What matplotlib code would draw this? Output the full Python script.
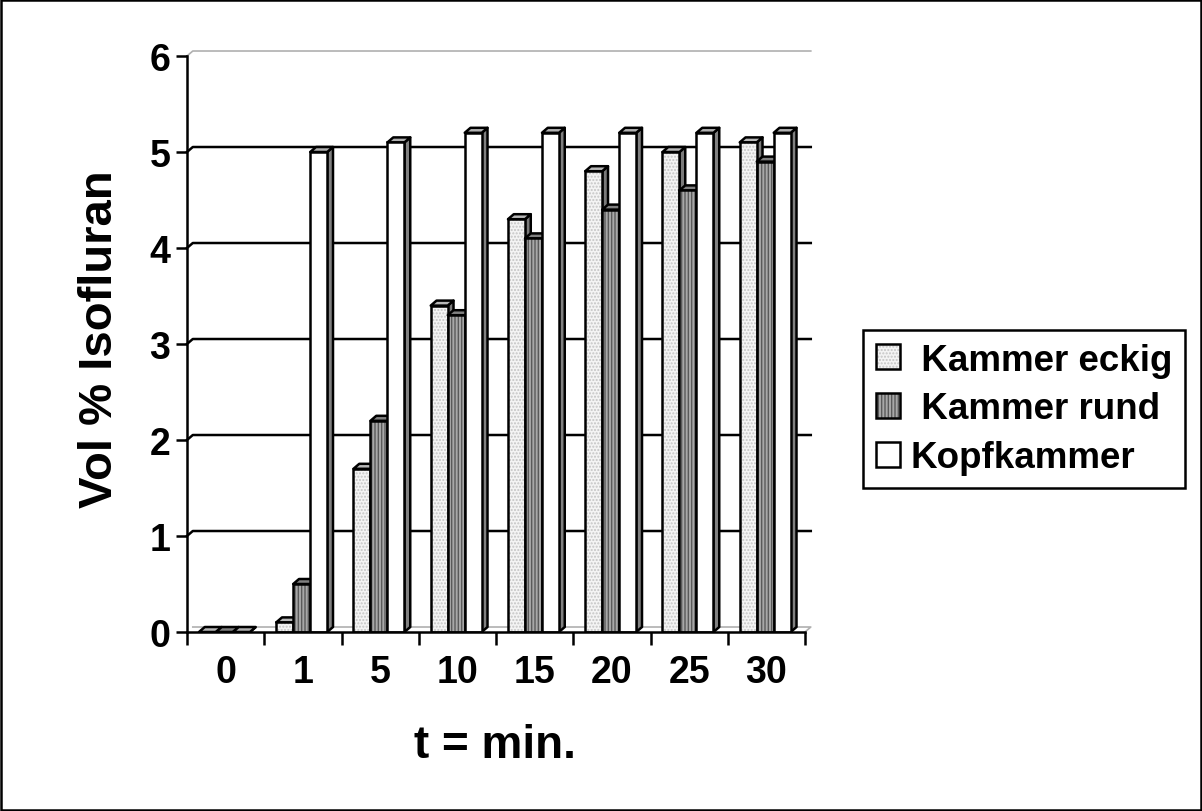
import numpy as np
import matplotlib
matplotlib.use("Agg")
import matplotlib.pyplot as plt
from matplotlib.patches import Polygon, Patch, Rectangle
from matplotlib.legend_handler import HandlerTuple

plt.rcParams['font.family'] = ['Liberation Sans', 'DejaVu Sans']
plt.rcParams['font.weight'] = 'bold'
plt.rcParams['hatch.linewidth'] = 1.0

# data
times = ['0', '1', '5', '10', '15', '20', '25', '30']
eckig = [0, 0.1, 1.7, 3.4, 4.3, 4.8, 5.0, 5.1]
rund = [0, 0.5, 2.2, 3.3, 4.1, 4.4, 4.6, 4.9]
kopf = [0, 5.0, 5.1, 5.2, 5.2, 5.2, 5.2, 5.2]
series_names = [' Kammer eckig', ' Kammer rund', 'Kopfkammer']

# style: (face, hatch, hatch colour, side face, top face)
styles = [
    ('#f4f4f4', '.....', '#c4c4c4', '#7a7a7a', '#b8b8b8'),
    ('#a8a8a8', '|||||', '#5a5a5a', '#555555', '#808080'),
    ('#ffffff', None, '#ffffff', '#808080', '#b0b0b0'),
]
LW = 1.8

W, H = 1202, 812
fig = plt.figure(figsize=(W / 100, H / 100), dpi=100)
ax = fig.add_axes([187 / W, 1 - 633 / H, (805 - 187) / W, (633 - 57) / H])

x = np.arange(len(times))
ax.set_xlim(-0.5, len(times) - 0.5)
ax.set_ylim(0, 6)

# depth of the pseudo 3d look, in data units
dx, dy = 0.075, 0.052
offsets = [-0.235, -0.015, 0.205]
bw = 0.22

# back wall gridlines
for v in range(1, 7):
    col = '#b0b0b0' if v == 6 else 'black'
    ax.plot([-0.5, -0.5 + dx, 7.5 + dx], [v, v + dy, v + dy], color=col,
            lw=LW if v < 6 else 1.2, zorder=1, clip_on=False)
ax.plot([-0.5 + dx, 7.5 + dx, 7.5], [dy, dy, 0], color='#b0b0b0', lw=1.2,
        zorder=1, clip_on=False)

for s, vals in enumerate([eckig, rund, kopf]):
    fc, hatch, hc, side, top = styles[s]
    z = 2 + s
    xs = x + offsets[s]
    for xc, v in zip(xs, vals):
        x0, x1 = xc - bw / 2, xc + bw / 2
        ax.add_patch(Polygon([(x1, 0), (x1, v), (x1 + dx, v + dy), (x1 + dx, dy)],
                             closed=True, facecolor=side, edgecolor='black',
                             lw=LW, zorder=z, joinstyle='round'))
        ax.add_patch(Polygon([(x0, v), (x1, v), (x1 + dx, v + dy), (x0 + dx, v + dy)],
                             closed=True, facecolor=top, edgecolor='black',
                             lw=LW, zorder=z, joinstyle='round'))
    ax.bar(xs, vals, bw, color=fc, hatch=hatch, edgecolor=hc, linewidth=0,
           zorder=z + 0.5)
    ax.bar(xs, vals, bw, fill=False, edgecolor='black', linewidth=LW,
           zorder=z + 0.6)

# axes
for sp in ['top', 'right']:
    ax.spines[sp].set_visible(False)
for sp in ['left', 'bottom']:
    ax.spines[sp].set_linewidth(LW)
    ax.spines[sp].set_zorder(10)
ax.set_yticks(range(7))
ax.tick_params(axis='y', length=8, width=LW, pad=4, labelsize=27)
ax.set_xticks(x)
ax.set_xticklabels(times)
ax.set_xticks(np.arange(-0.5, len(times)), minor=True)
ax.tick_params(axis='x', which='major', length=0, pad=16, labelsize=27)
ax.tick_params(axis='x', which='minor', length=9, width=LW)

fig.text(495 / W, 1 - 758 / H, 't = min.', fontsize=33, fontweight='bold',
         ha='center', va='baseline')
fig.text(100 / W, 1 - 339 / H, 'Vol % Isofluran', fontsize=34, fontweight='bold',
         rotation=90, ha='center', va='center')

# legend
handles = []
for fc, hatch, hc, side, top in styles:
    handles.append((Patch(facecolor=fc, hatch=hatch, edgecolor=hc, lw=0),
                    Patch(fill=False, edgecolor='black', lw=LW)))
leg = fig.legend(handles, series_names, loc='center left',
                 bbox_to_anchor=(863 / W, 1 - 410 / H),
                 handler_map={tuple: HandlerTuple(ndivide=1, pad=0)},
                 prop={'size': 26.5, 'weight': 'bold'}, fancybox=False,
                 framealpha=1, handlelength=0.65, handleheight=0.65,
                 handletextpad=0.3, borderpad=0.35, labelspacing=0.38,
                 borderaxespad=0)
leg.get_frame().set_edgecolor('black')
leg.get_frame().set_linewidth(LW)

# outer border
fig.patches.append(Rectangle((0.001, 0.001), 0.998, 0.998, transform=fig.transFigure,
                             fill=False, edgecolor='black', lw=LW))

fig.savefig('out.png', dpi=100)
